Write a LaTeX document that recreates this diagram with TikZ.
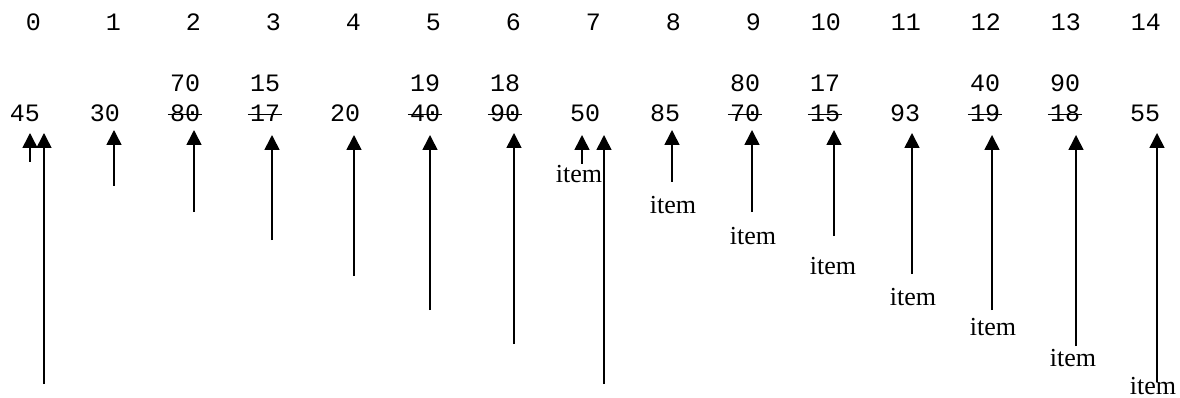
\documentclass[tikz,border=0pt]{standalone}
\usepackage{fontspec}
\setmainfont{Liberation Serif}
\newfontfamily\monof{Liberation Mono}
\usetikzlibrary{arrows.meta}
\begin{document}
\begin{tikzpicture}[x=1pt,y=-1pt,
 idx/.style={font=\monof\fontsize{25}{30}\selectfont, anchor=base east, inner sep=0pt},
 val/.style={font=\monof\fontsize{25}{30}\selectfont, anchor=base, inner sep=2pt},
 lbl/.style={font=\fontsize{26}{30}\selectfont, inner sep=0pt, text depth=0pt, anchor=base},
 arr/.style={line width=1.6pt, -{Triangle[width=15pt,length=15pt]}},
 strike/.style={line width=1.2pt}]
\useasboundingbox (0,0) rectangle (1180,398);
% index row
\foreach \k in {0,...,14} \node[idx] (i\k) at ({41+80*\k},31) {\k};
% lower values
\foreach \k/\v in {0/45,1/30,2/80,3/17,4/20,5/40,6/90,7/50,8/85,9/70,10/15,11/93,12/19,13/18,14/55}
  \node[val] (v\k) at ({25+80*\k},122) {\v};
% upper values
\foreach \k/\v in {2/70,3/15,5/19,6/18,9/80,10/17,12/40,13/90}
  \node[val] (u\k) at ({25+80*\k},92) {\v};
% strike-through
\foreach \k in {2,3,5,6,9,10,12,13}
  \draw[strike] ([yshift=7.5pt]v\k.base west) -- ([yshift=7.5pt]v\k.base east);
% arrows
\foreach \n/\x/\t/\b in {0a/30/133/162,0b/44/133/384,1/114/130/186,2/194/130/212,3/272/135/240,4/354/135/276,5/430/135/310,6/514/133/344,7a/582/135/164,7b/604/135/384,8/672/130/182,9/752/130/212,10/834/130/236,11/912/133/274,12/992/135/310,13/1076/135/346,14/1157/133/382}{
  \coordinate (b\n) at (\x,\b);
  \coordinate (t\n) at (\x,\t);
  \draw[arr] (b\n) -- (t\n);
}
% item labels
\foreach \n/\x/\y in {7a/579/183,8/673/213,9/753/244,10/833/274,11/913/305,12/993/335,13/1073/366,14/1153/394}
  \node[lbl] (l\n) at (\x,\y) {item};
\end{tikzpicture}
\end{document}
